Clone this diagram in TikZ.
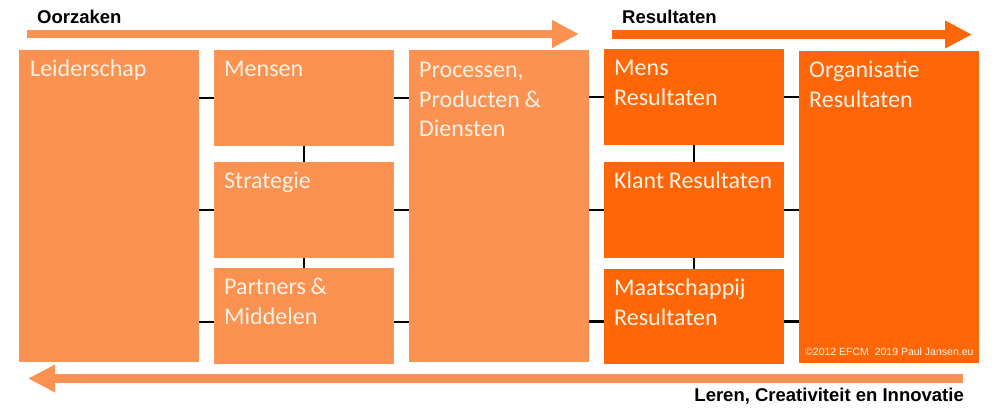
\documentclass[tikz,border=0pt]{standalone}
\usepackage{fontspec}
\setmainfont{Carlito}
\newfontfamily\arial{Liberation Sans}
\usetikzlibrary{arrows.meta}
\definecolor{licht}{RGB}{252,146,82}
\definecolor{donker}{RGB}{255,102,8}
\definecolor{wit}{RGB}{255,242,228}

\begin{document}
\begin{tikzpicture}[x=1pt,y=-1pt]
\tikzstyle{blok}=[rectangle,fill=licht,anchor=north west,inner sep=0pt,outer sep=0pt,minimum width=180pt]
\tikzstyle{blokd}=[blok,fill=donker]
\tikzstyle{tekst}=[anchor=base west,align=flush left,text width=172pt,inner sep=0pt,text=wit,font=\fontsize{24}{29.5}\selectfont,execute at begin node={\spaceskip=0.2em\relax}]
\tikzstyle{kop}=[anchor=base west,inner sep=0pt,font=\arial\bfseries\fontsize{18.5}{22}\selectfont]
\tikzstyle{verb}=[draw=black,line width=2.6pt]
\tikzstyle{pijl}=[line width=8.5pt,-{Triangle[length=27pt,width=26pt]}]
\useasboundingbox (0,0) rectangle (999,419);
% pijlen
\coordinate (oorzS) at (27,34);
\coordinate (oorzE) at (579,34);
\coordinate (resS) at (612,34.5);
\coordinate (resE) at (972,34.5);
\coordinate (lerS) at (963,378.5);
\coordinate (lerE) at (28,378.5);
\draw [pijl,licht] (oorzS) -- (oorzE);
\draw [pijl,donker] (resS) -- (resE);
\draw [pijl,licht] (lerS) -- (lerE);
\node [kop] (oorz) at (37,24) {Oorzaken};
\node [kop] (res) at (622,24) {Resultaten};
\node [kop,anchor=base east] (ler) at (964,402) {Leren, Creativiteit en Innovatie};
% blokken
\node [blok,minimum height=312pt] (leid) at (19,50) {};
\node [blok,minimum height=96pt] (mens) at (214,50) {};
\node [blok,minimum height=96pt] (strat) at (214,162) {};
\node [blok,minimum height=96pt] (partn) at (214,268) {};
\node [blok,minimum height=312pt] (proc) at (409,50) {};
\node [blokd,minimum height=96pt] (mensR) at (604,49) {};
\node [blokd,minimum height=96pt] (klant) at (604,162) {};
\node [blokd,minimum height=95pt] (maat) at (604,269) {};
\node [blokd,minimum height=312pt] (org) at (799,51) {};
% verbindingen
\coordinate (partnW) at ([yshift=-6pt]partn.west);
\coordinate (partnO) at ([yshift=-6pt]partn.east);
\coordinate (maatW) at ([yshift=-5pt]maat.west);
\coordinate (maatO) at ([yshift=-5pt]maat.east);
\draw [verb] (leid.east |- mens.west) -- (mens.west);
\draw [verb] (mens.east) -- (proc.west |- mens.east);
\draw [verb] (leid.east |- strat.west) -- (strat.west);
\draw [verb] (strat.east) -- (proc.west |- strat.east);
\draw [verb] (leid.east |- partnW) -- (partnW);
\draw [verb] (partnO) -- (proc.west |- partnO);
\draw [verb] (mens.south) -- (strat.north);
\draw [verb] (strat.south) -- (partn.north);
\draw [verb] (proc.east |- mensR.west) -- (mensR.west);
\draw [verb] (mensR.east) -- (org.west |- mensR.east);
\draw [verb] (proc.east |- klant.west) -- (klant.west);
\draw [verb] (klant.east) -- (org.west |- klant.east);
\draw [verb] (proc.east |- maatW) -- (maatW);
\draw [verb] (maatO) -- (org.west |- maatO);
\draw [verb] (mensR.south) -- (klant.north);
\draw [verb] (klant.south) -- (maat.north);
% teksten
\node [tekst] (leidT) at ([shift={(11,27)}]leid.north west) {Leiderschap};
\node [tekst] (mensT) at ([shift={(10,27)}]mens.north west) {Mensen};
\node [tekst] (stratT) at ([shift={(10,27)}]strat.north west) {Strategie};
\node [tekst] (partnT) at ([shift={(10,27)}]partn.north west) {Partners \&\\Middelen};
\node [tekst] (procT) at ([shift={(10,28)}]proc.north west) {Processen,\\Producten \&\\Diensten};
\node [tekst] (mensRT) at ([shift={(10,27)}]mensR.north west) {Mens\\Resultaten};
\node [tekst] (klantT) at ([shift={(10,27)}]klant.north west) {Klant Resultaten};
\node [tekst] (maatT) at ([shift={(10,27)}]maat.north west) {Maatschappij\\Resultaten};
\node [tekst] (orgT) at ([shift={(10,27)}]org.north west) {Organisatie\\Resultaten};
\node [anchor=base west,inner sep=0pt,text=wit,font=\arial\fontsize{10.5}{12}\selectfont] (copy) at (805,355.5) {\textcopyright2012 EFCM\ \ 2019 Paul Jansen.eu};
\end{tikzpicture}
\end{document}
